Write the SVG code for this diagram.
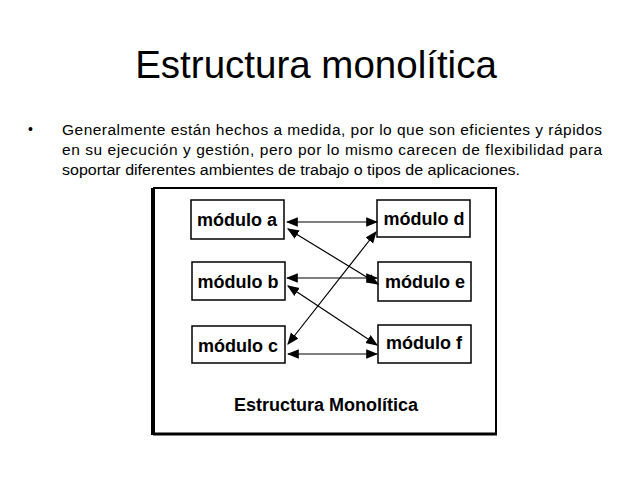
<svg xmlns="http://www.w3.org/2000/svg" width="638" height="479" viewBox="0 0 638 479">
<style>
.t{font-family:"Liberation Sans",Arial,sans-serif;fill:#000}
.b{fill:#fff;stroke:#000;stroke-width:1.5}
.m{font-family:"Liberation Sans",Arial,sans-serif;font-weight:bold;font-size:18px;text-anchor:middle}
.c{stroke:#000;stroke-width:1.2;fill:none;marker-start:url(#h);marker-end:url(#h)}
</style>
<defs><marker id="h" viewBox="0 0 10 10" refX="9" refY="5" markerWidth="12" markerHeight="12" markerUnits="userSpaceOnUse" orient="auto-start-reverse"><path d="M0,1 L10,5 L0,9 Z"/></marker></defs>
<rect width="638" height="479" fill="#fff"/>
<text class="t" x="316" y="78" font-size="38.5" text-anchor="middle">Estructura monolítica</text>
<text class="t" x="28" y="134" font-size="14">•</text>
<text class="t" font-size="15.5" x="62" y="135" textLength="540" lengthAdjust="spacing">Generalmente están hechos a medida, por lo que son eficientes y rápidos</text>
<text class="t" font-size="15.5" x="62" y="155" textLength="540" lengthAdjust="spacing">en su ejecución y gestión, pero por lo mismo carecen de flexibilidad para</text>
<text class="t" font-size="15.5" x="62" y="175" textLength="458" lengthAdjust="spacingAndGlyphs">soportar diferentes ambientes de trabajo o tipos de aplicaciones.</text>
<g id="frame"><rect x="154" y="188" width="342" height="246" fill="none" stroke="#000" stroke-width="2"/><line x1="153" y1="188" x2="153" y2="435" stroke="#000" stroke-width="4"/><line x1="153" y1="434" x2="497" y2="434" stroke="#000" stroke-width="3"/></g>
<g id="a"><rect class="b" x="191" y="200" width="93" height="39"/><text class="m" x="237" y="226">módulo a</text></g>
<g id="b"><rect class="b" x="192" y="262" width="93" height="38"/><text class="m" x="238" y="288">módulo b</text></g>
<g id="c"><rect class="b" x="192" y="326" width="93" height="37"/><text class="m" x="238" y="352">módulo c</text></g>
<g id="d"><rect class="b" x="377" y="200" width="93" height="37"/><text class="m" x="424" y="225">módulo d</text></g>
<g id="e"><rect class="b" x="378" y="262" width="93" height="39"/><text class="m" x="425" y="288">módulo e</text></g>
<g id="f"><rect class="b" x="378" y="325" width="93" height="38"/><text class="m" x="424" y="349">módulo f</text></g>
<g id="connectors">
<line class="c" x1="287" y1="222" x2="377" y2="222"/>
<line class="c" x1="288" y1="229" x2="378" y2="284"/>
<line class="c" x1="287" y1="278" x2="377" y2="278"/>
<line class="c" x1="288" y1="286" x2="377" y2="345"/>
<line class="c" x1="288" y1="344" x2="376" y2="232"/>
<line class="c" x1="288" y1="354" x2="377" y2="354"/>
</g>
<text class="m" x="326" y="411" font-size="17">Estructura Monolítica</text>
</svg>
